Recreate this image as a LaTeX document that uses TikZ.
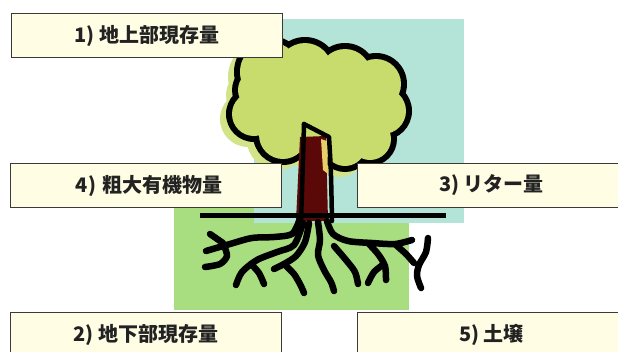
\documentclass[tikz,border=0pt]{standalone}
\usepackage{fontspec}
\newfontfamily\cjk{Noto Sans CJK JP}
\definecolor{boxfill}{HTML}{FFFDE4}
\definecolor{boxline}{HTML}{3A3A3A}
\definecolor{sky}{HTML}{B4E3D7}
\definecolor{soil}{HTML}{A8DD80}
\definecolor{leaf}{HTML}{C8DC6E}
\definecolor{leafshade}{HTML}{D3E387}
\definecolor{bark}{HTML}{5A0808}
\definecolor{barklight}{HTML}{E6CF6A}
\definecolor{ink}{HTML}{222222}
\tikzset{
  labelbox/.style={draw=boxline, fill=boxfill, line width=1pt, inner sep=0pt,
    minimum height=44pt, font=\cjk\bfseries\fontsize{20}{20}\selectfont, text=ink},
  root/.style={draw=black, line width=6.5pt, line cap=round, line join=round},
  outline/.style={draw=black, line width=4.5pt, line cap=round, line join=round},
}
\newcommand\canopylobes{270/72/30,305/70/27,345/75/26,376/84/25,383/111/23,370/139/21,345/145/21,283/135/24,254/114/22,258/90/20,320/110/48}
\begin{document}
\begin{tikzpicture}[x=1pt, y=-1pt]
\useasboundingbox (0,0) rectangle (618,351);
\fill[white] (0,0) rectangle (618,351);

% soil and sky panels
\fill[soil] (174,195) rectangle (409,310);
\fill[sky] (254,19) rectangle (464,223);

% canopy lobes (x/y/radius): shade, outline, fill
\foreach \x/\y/\r in \canopylobes { \fill[leafshade] (\x-6,\y+5) circle[radius=\r+6]; }
\foreach \x/\y/\r in \canopylobes { \fill[black] (\x,\y) circle[radius=\r+6]; }
\foreach \x/\y/\r in \canopylobes { \fill[leaf] (\x,\y) circle[radius=\r]; }

% trunk
\fill[bark] (300,137) -- (326,136) -- (328,221) -- (296,221) -- cycle;
\fill[barklight] (321,139) -- (327,141) -- (328,174) -- (323,170) -- cycle;
\draw[outline] (304,124) .. controls (303,160) .. (301,221);
\draw[outline] (304,124) -- (329,137) .. controls (331,170) .. (332,221);

% ground line
\draw[line width=5pt] (200,215) -- (446,215);

% roots
\draw[root] plot[smooth] coordinates {(299,221) (292,234) (274,237) (252,238) (230,244) (206,251)};
\draw[root] plot[smooth] coordinates {(210,234) (223,243)};
\draw[root] plot[smooth] coordinates {(224,246) (227,256) (220,264) (205,267)};
\draw[root] plot[smooth] coordinates {(303,223) (294,245) (277,252) (257,260) (242,272) (236,285)};
\draw[root] plot[smooth] coordinates {(251,264) (259,273) (264,284)};
\draw[root] plot[smooth] coordinates {(309,223) (305,242) (296,256) (284,264) (274,269)};
\draw[root] plot[smooth] coordinates {(284,264) (294,274) (301,286) (304,293)};
\draw[root] plot[smooth] coordinates {(318,222) (320,240) (318,255) (324,270) (331,282) (334,291)};
\draw[root] plot[smooth] coordinates {(327,221) (333,234) (348,241) (372,243) (395,244) (412,240)};
\draw[root] plot[smooth] coordinates {(334,246) (346,260) (355,272) (358,284)};
\draw[root] plot[smooth] coordinates {(368,243) (378,254) (385,266) (386,280)};
\draw[root] plot[smooth] coordinates {(384,264) (374,272) (368,283)};
\draw[root] plot[smooth] coordinates {(396,245) (406,254) (414,263)};
\draw[root] plot[smooth] coordinates {(428,238) (426,252) (419,265) (417,276) (421,288)};

% labels
\node[labelbox, minimum width=271pt, anchor=north west] (above) at (11,13) {1) 地上部現存量};
\node[labelbox, minimum width=271pt, anchor=north west] (coarse) at (10,163) {\hspace*{6pt}4)\hspace{6pt}粗大有機物量};
\node[labelbox, minimum width=268pt, anchor=north west] (litter) at (357,163) {3) リター量};
\node[labelbox, minimum width=271pt, anchor=north west] (below) at (10,312) {2) 地下部現存量};
\node[labelbox, minimum width=268pt, anchor=north west] (soilbox) at (357,312) {5) 土壌};
\end{tikzpicture}
\end{document}
